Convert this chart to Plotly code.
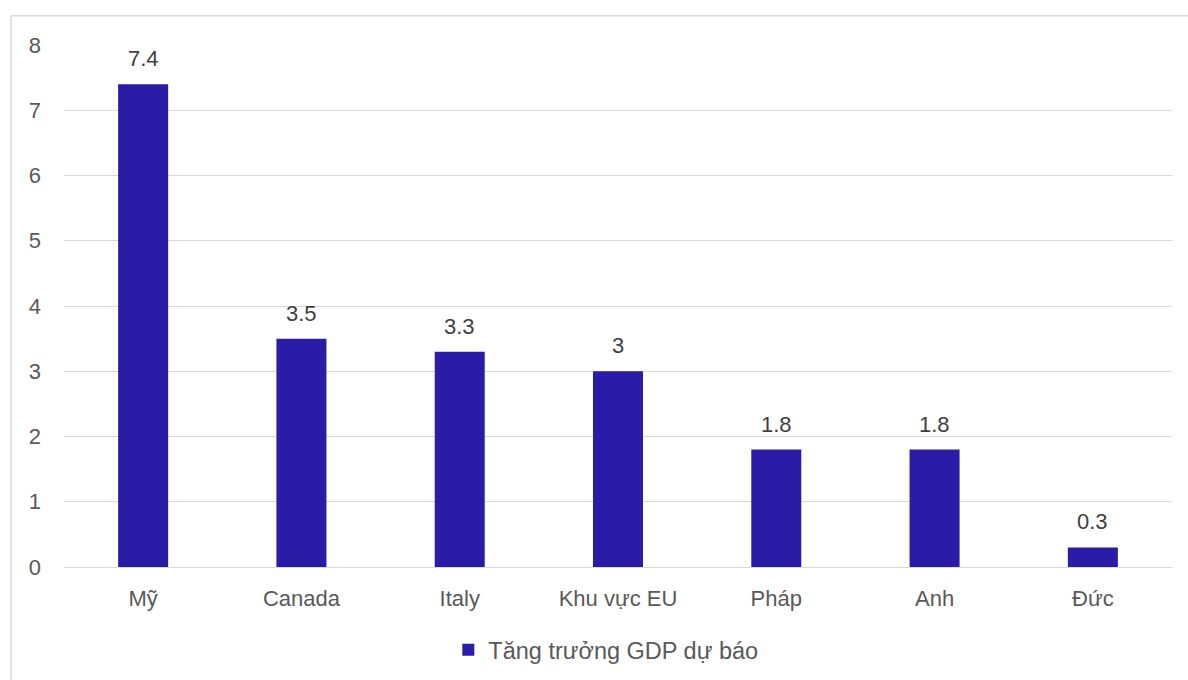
import plotly.graph_objects as go

categories = ["Mỹ", "Canada", "Italy", "Khu vực EU", "Pháp", "Anh", "Đức"]
values = [7.4, 3.5, 3.3, 3.0, 1.8, 1.8, 0.3]
labels = ["7.4", "3.5", "3.3", "3", "1.8", "1.8", "0.3"]
series_name = "Tăng trưởng GDP dự báo"
y_ticks = [0, 1, 2, 3, 4, 5, 6, 7, 8]

FONT = "Liberation Sans, Arial, sans-serif"
BAR = "#2A1CA6"

fig = go.Figure()
fig.add_trace(go.Bar(
    x=categories, y=values, name=series_name,
    marker=dict(color=BAR, line=dict(width=0)),
    showlegend=True,
))

for c, v, t in zip(categories, values, labels):
    fig.add_annotation(x=c, y=v, text=t, showarrow=False, yanchor="bottom",
                       yshift=11, font=dict(family=FONT, size=22, color="#404040"))

fig.update_layout(
    width=1188, height=680,
    margin=dict(l=64, r=16, t=45, b=113, autoexpand=False),
    paper_bgcolor="white", plot_bgcolor="white",
    bargap=0.684,
    font=dict(family=FONT, size=22, color="#595959"),
    showlegend=True,
    legend=dict(orientation="h", x=0.489, xanchor="center", y=-0.159, yanchor="middle",
                font=dict(family=FONT, size=23.5, color="#595959")),
    xaxis=dict(showgrid=False, showline=False, ticks="", ticklabelstandoff=16, automargin=False,
               tickfont=dict(family=FONT, size=22, color="#595959")),
    yaxis=dict(range=[0, 8], tickvals=y_ticks, showgrid=True, gridcolor="#D9D9D9", gridwidth=1,
               zeroline=True, zerolinecolor="#D9D9D9", zerolinewidth=1, automargin=False,
               showline=False, ticks="", ticklabelstandoff=22,
               tickfont=dict(family=FONT, size=22, color="#595959")),
    shapes=[
        dict(type="line", xref="paper", yref="paper", x0=-0.0478, x1=-0.0478, y0=1.056, y1=-0.3,
             line=dict(color="#D9D9D9", width=1.5)),
        dict(type="line", xref="paper", yref="paper", x0=-0.0478, x1=1.02, y0=1.056, y1=1.056,
             line=dict(color="#D9D9D9", width=1.5)),
    ],
)

fig.write_html("out.html")
